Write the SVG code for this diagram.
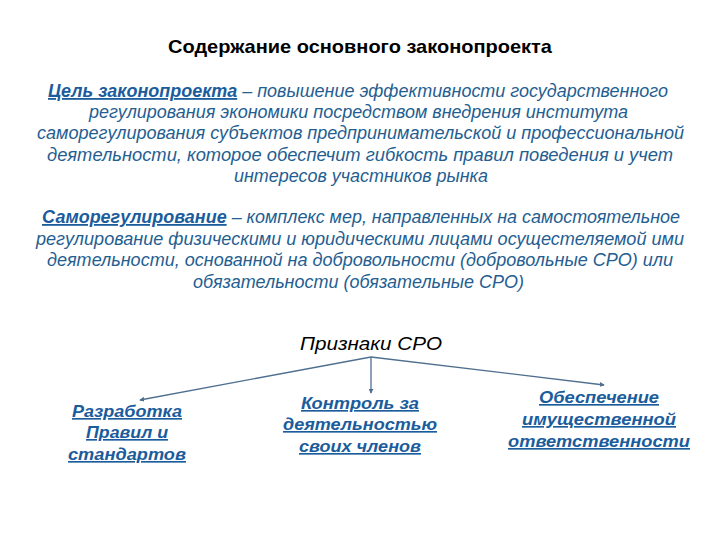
<svg xmlns="http://www.w3.org/2000/svg" width="720" height="540" viewBox="0 0 720 540">
<defs>
<style>
.t{font-family:"Liberation Sans",Arial,sans-serif;fill:#000;font-size:19px;font-weight:bold;}
.b{font-family:"Liberation Sans",Arial,sans-serif;font-style:italic;fill:#245e91;font-size:18px;}
.h{font-weight:bold;fill:#1b5c9c;text-decoration:underline;}
.p{font-family:"Liberation Sans",Arial,sans-serif;font-style:italic;fill:#000;font-size:18.5px;}
.n{font-family:"Liberation Sans",Arial,sans-serif;font-style:italic;font-weight:bold;fill:#1b5c9c;font-size:16.5px;text-decoration:underline;}
.c{stroke:#4f6f8f;stroke-width:1.3;fill:none;marker-end:url(#a);}
</style>
<marker id="a" viewBox="0 0 6 6" refX="5" refY="3" markerWidth="5" markerHeight="5" orient="auto" markerUnits="userSpaceOnUse">
<path d="M0,0 L6,3 L0,6 z" fill="#4f6f8f"/>
</marker>
</defs>
<rect width="720" height="540" fill="#fff"/>
<g id="title">
<text class="t" x="360" y="53" text-anchor="middle" textLength="384" lengthAdjust="spacingAndGlyphs">Содержание основного законопроекта</text>
</g>
<g id="goal">
<text class="b" x="48" y="97" textLength="620" lengthAdjust="spacingAndGlyphs"><tspan class="h">Цель законопроекта</tspan> – повышение эффективности государственного</text>
<text class="b" x="89" y="118" textLength="539" lengthAdjust="spacingAndGlyphs">регулирования экономики посредством внедрения института</text>
<text class="b" x="37" y="139" textLength="647" lengthAdjust="spacingAndGlyphs">саморегулирования субъектов предпринимательской и профессиональной</text>
<text class="b" x="47" y="161" textLength="626" lengthAdjust="spacingAndGlyphs">деятельности, которое обеспечит гибкость правил поведения и учет</text>
<text class="b" x="234" y="182" textLength="254" lengthAdjust="spacingAndGlyphs">интересов участников рынка</text>
</g>
<g id="selfreg">
<text class="b" x="42" y="223" textLength="638" lengthAdjust="spacingAndGlyphs"><tspan class="h">Саморегулирование</tspan> – комплекс мер, направленных на самостоятельное</text>
<text class="b" x="36" y="245" textLength="648" lengthAdjust="spacingAndGlyphs">регулирование физическими и юридическими лицами осущестеляемой ими</text>
<text class="b" x="47" y="266" textLength="626" lengthAdjust="spacingAndGlyphs">деятельности, основанной на добровольности (добровольные СРО) или</text>
<text class="b" x="193" y="288" textLength="331" lengthAdjust="spacingAndGlyphs">обязательности (обязательные СРО)</text>
</g>
<g id="signs">
<text class="p" x="300" y="350" textLength="142" lengthAdjust="spacingAndGlyphs">Признаки СРО</text>
</g>
<g id="connectors">
<line class="c" x1="371" y1="357" x2="140" y2="400"/>
<line class="c" x1="371" y1="357" x2="371" y2="393"/>
<line class="c" x1="371" y1="357" x2="604" y2="385"/>
</g>
<g id="n1">
<text class="n" x="127" y="417" text-anchor="middle" textLength="110" lengthAdjust="spacingAndGlyphs">Разработка</text>
<text class="n" x="127" y="438" text-anchor="middle" textLength="82" lengthAdjust="spacingAndGlyphs">Правил и</text>
<text class="n" x="127" y="460" text-anchor="middle" textLength="118" lengthAdjust="spacingAndGlyphs">стандартов</text>
</g>
<g id="n2">
<text class="n" x="360" y="409" text-anchor="middle" textLength="118" lengthAdjust="spacingAndGlyphs">Контроль за</text>
<text class="n" x="360" y="430" text-anchor="middle" textLength="154" lengthAdjust="spacingAndGlyphs">деятельностью</text>
<text class="n" x="360" y="452" text-anchor="middle" textLength="122" lengthAdjust="spacingAndGlyphs">своих членов</text>
</g>
<g id="n3">
<text class="n" x="599" y="403" text-anchor="middle" textLength="120" lengthAdjust="spacingAndGlyphs">Обеспечение</text>
<text class="n" x="599" y="425" text-anchor="middle" textLength="154" lengthAdjust="spacingAndGlyphs">имущественной</text>
<text class="n" x="599" y="447" text-anchor="middle" textLength="182" lengthAdjust="spacingAndGlyphs">ответственности</text>
</g>
</svg>
